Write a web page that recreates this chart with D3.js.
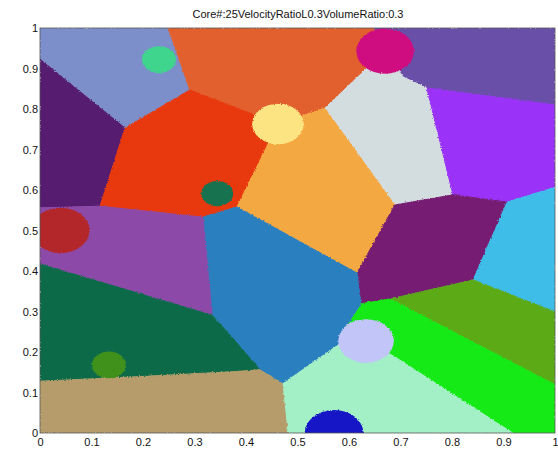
<!DOCTYPE html>
<html><head><meta charset="utf-8">
<script src="https://cdn.jsdelivr.net/npm/d3@7"></script>
<style>body{margin:0;background:#fff}</style>
</head><body><svg id="c" width="558" height="454"></svg>
<script>
const chartTitle = "Core#:25VelocityRatioL0.3VolumeRatio:0.3";
const xTicks = [0, 0.1, 0.2, 0.3, 0.4, 0.5, 0.6, 0.7, 0.8, 0.9, 1];
const yTicks = [0, 0.1, 0.2, 0.3, 0.4, 0.5, 0.6, 0.7, 0.8, 0.9, 1];

// grain regions (polygon vertices in data units) and their colours
const cellColors = ["#7b8fca","#e25f2f","#6a4fa9","#561a70","#e8390d","#d3dde0","#9a33f7","#f4a843",
  "#761f72","#3dbde8","#5bab19","#15ea15","#a3f0c6","#2b7fbf","#8c4aa8","#0b6b49","#b59c6b"];
const cellPolygons = [
  [[0,1],[0.249,1],[0.291,0.847],[0.165,0.753],[0,0.923]],
  [[0.249,1],[0.650,1],[0.670,0.943],[0.553,0.802],[0.462,0.763],[0.291,0.847]],
  [[0.650,1],[1,1],[1,0.810],[0.751,0.852],[0.705,0.879],[0.670,0.943]],
  [[0,0.923],[0.165,0.753],[0.1165,0.560],[0,0.556]],
  [[0.291,0.847],[0.462,0.763],[0.3825,0.558],[0.3165,0.533],[0.1165,0.560],[0.165,0.753]],
  [[0.553,0.802],[0.670,0.943],[0.705,0.879],[0.751,0.852],[0.802,0.588],[0.689,0.563]],
  [[0.751,0.852],[1,0.810],[1,0.607],[0.907,0.570],[0.802,0.588]],
  [[0.462,0.763],[0.553,0.802],[0.689,0.563],[0.6155,0.395],[0.3825,0.558]],
  [[0.689,0.563],[0.802,0.588],[0.907,0.570],[0.841,0.378],[0.680,0.331],[0.623,0.319],[0.6155,0.395]],
  [[0.907,0.570],[1,0.607],[1,0.299],[0.841,0.378]],
  [[0.841,0.378],[1,0.299],[1,0.119],[0.680,0.331]],
  [[0.623,0.319],[0.680,0.331],[1,0.119],[1,0],[0.918,0],[0.689,0.188],[0.633,0.227],[0.592,0.259]],
  [[0.633,0.227],[0.689,0.188],[0.918,0],[0.480,0],[0.470,0.123],[0.579,0.220]],
  [[0.3165,0.533],[0.3825,0.558],[0.6155,0.395],[0.623,0.319],[0.592,0.259],[0.633,0.227],[0.579,0.220],[0.470,0.123],[0.427,0.156],[0.369,0.242],[0.334,0.291]],
  [[0,0.556],[0.1165,0.560],[0.3165,0.533],[0.334,0.291],[0,0.417]],
  [[0,0.417],[0.334,0.291],[0.369,0.242],[0.427,0.156],[0.369,0.151],[0.175,0.138],[0,0.128]],
  [[0,0.128],[0.175,0.138],[0.369,0.151],[0.427,0.156],[0.470,0.123],[0.480,0],[0,0]]
];

// circular grains
const grainX = [0.231, 0.670, 0.462, 0.344, 0.040, 0.134, 0.633, 0.571];
const grainY = [0.922, 0.943, 0.763, 0.591, 0.500, 0.168, 0.227, 0.000];
const grainR = [0.033, 0.056, 0.050, 0.031, 0.056, 0.033, 0.054, 0.057];
const grainColors = ["#3fd58d","#d00a80","#fde483","#12724f","#b3282a","#3f911f","#c1c5f7","#1414c6"];

const svg = d3.select("#c");
const x = d3.scaleLinear().domain([0,1]).range([40,555]);
const y = d3.scaleLinear().domain([0,1]).range([433,28]);

const defs = svg.append("defs");
defs.append("clipPath").attr("id","plot").append("rect")
  .attr("x",x(0)).attr("y",y(1)).attr("width",x(1)-x(0)).attr("height",y(0)-y(1));
const f = defs.append("filter").attr("id","rough").attr("x","-5%").attr("y","-5%").attr("width","110%").attr("height","110%");
f.append("feTurbulence").attr("type","fractalNoise").attr("baseFrequency","0.7").attr("numOctaves",2).attr("seed",3).attr("result","n");
f.append("feDisplacementMap").attr("in","SourceGraphic").attr("in2","n").attr("scale",3).attr("xChannelSelector","R").attr("yChannelSelector","G");

const plot = svg.append("g").attr("clip-path","url(#plot)");
const g = plot.append("g").attr("filter","url(#rough)");
const line = d3.line().x(d=>x(d[0])).y(d=>y(d[1])).curve(d3.curveLinearClosed);

g.selectAll("path.cell").data(cellPolygons).join("path")
  .attr("class","cell").attr("d",line)
  .attr("fill",(d,i)=>cellColors[i]).attr("stroke",(d,i)=>cellColors[i]).attr("stroke-width",1);

g.selectAll("ellipse").data(grainX).join("ellipse")
  .attr("cx",(d,i)=>x(grainX[i])).attr("cy",(d,i)=>y(grainY[i]))
  .attr("rx",(d,i)=>x(grainR[i])-x(0)).attr("ry",(d,i)=>y(0)-y(grainR[i]))
  .attr("fill",(d,i)=>grainColors[i]);

svg.append("rect").attr("x",x(0)).attr("y",y(1)).attr("width",x(1)-x(0)).attr("height",y(0)-y(1))
  .attr("fill","none").attr("stroke","#555").attr("stroke-width",0.8);

const font = "'Liberation Sans', Arial, sans-serif";
const xa = svg.append("g").attr("transform",`translate(0,${y(0)})`)
  .call(d3.axisBottom(x).tickValues(xTicks).tickSize(0).tickPadding(5).tickFormat(d3.format("~g")));
const ya = svg.append("g").attr("transform",`translate(${x(0)},0)`)
  .call(d3.axisLeft(y).tickValues(yTicks).tickSize(0).tickPadding(2).tickFormat(d3.format("~g")));
[xa,ya].forEach(a=>{
  a.select(".domain").remove();
  a.selectAll("text").attr("font-family",font).attr("font-size",11).attr("fill","#111");
});

svg.append("text").attr("x",298).attr("y",18).attr("text-anchor","middle")
  .attr("font-family",font).attr("font-size",11).attr("fill","#111").text(chartTitle);
</script></body></html>
